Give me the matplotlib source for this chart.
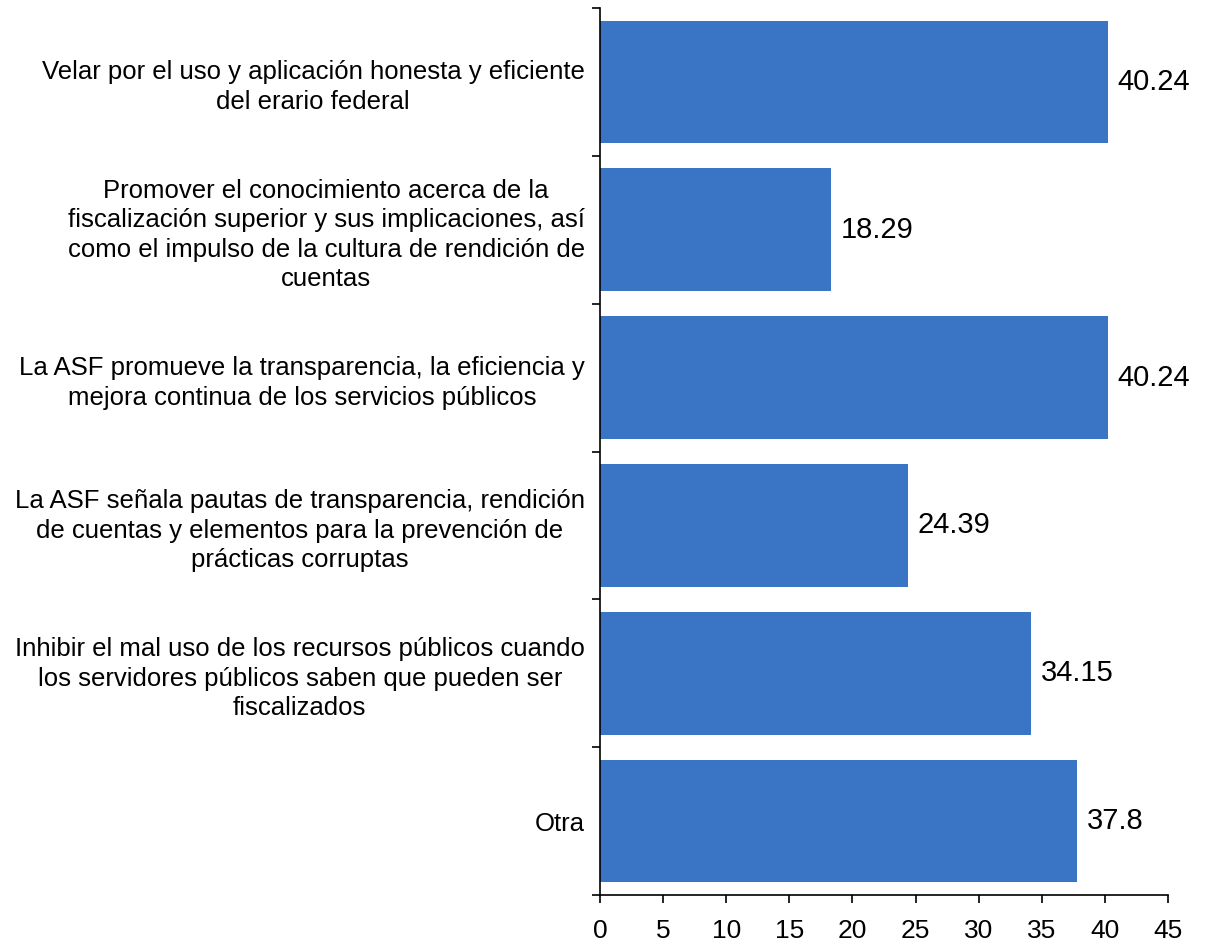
import matplotlib
matplotlib.use("Agg")
import matplotlib.pyplot as plt
import numpy as np

plt.rcParams['font.family'] = ['Liberation Sans', 'DejaVu Sans']

categories = [
    "Velar por el uso y aplicación honesta y eficiente\ndel erario federal",
    "Promover el conocimiento acerca de la\nfiscalización superior y sus implicaciones, así\ncomo el impulso de la cultura de rendición de\ncuentas",
    "La ASF promueve la transparencia, la eficiencia y\nmejora continua de los servicios públicos",
    "La ASF señala pautas de transparencia, rendición\nde cuentas y elementos para la prevención de\nprácticas corruptas",
    "Inhibir el mal uso de los recursos públicos cuando\nlos servidores públicos saben que pueden ser\nfiscalizados",
    "Otra",
]
values = [40.24, 18.29, 40.24, 24.39, 34.15, 37.8]
value_labels = ["40.24", "18.29", "40.24", "24.39", "34.15", "37.8"]

fig = plt.figure(figsize=(12.08, 9.44), dpi=100)
ax = fig.add_axes([600 / 1208, 1 - 895 / 944, 568 / 1208, 887 / 944])

y = np.arange(len(categories))
ax.barh(y, values, height=0.83, color="#3A75C5")

for yi, v, lab in zip(y, values, value_labels):
    ax.text(v + 0.75, yi, lab, va="center", ha="left", fontsize=21)

ax.set_xlim(0, 45)
ax.set_ylim(len(categories) - 0.5, -0.5)
ax.set_xticks(np.arange(0, 46, 5))
ax.tick_params(axis="x", labelsize=19, length=6, width=1.2, direction="out", pad=11)

ax.set_yticks(y)
ax.set_yticklabels(categories, fontsize=18.5, ha="right", multialignment="center",
                   linespacing=1.29)
ax.tick_params(axis="y", which="major", length=0, pad=11)
ax.set_yticks(np.arange(-0.5, len(categories)), minor=True)
ax.tick_params(axis="y", which="minor", length=6, width=1.2, direction="out")

for s in ["top", "right"]:
    ax.spines[s].set_visible(False)
for s in ["left", "bottom"]:
    ax.spines[s].set_linewidth(1.2)

fig.savefig("out.png", dpi=100)
